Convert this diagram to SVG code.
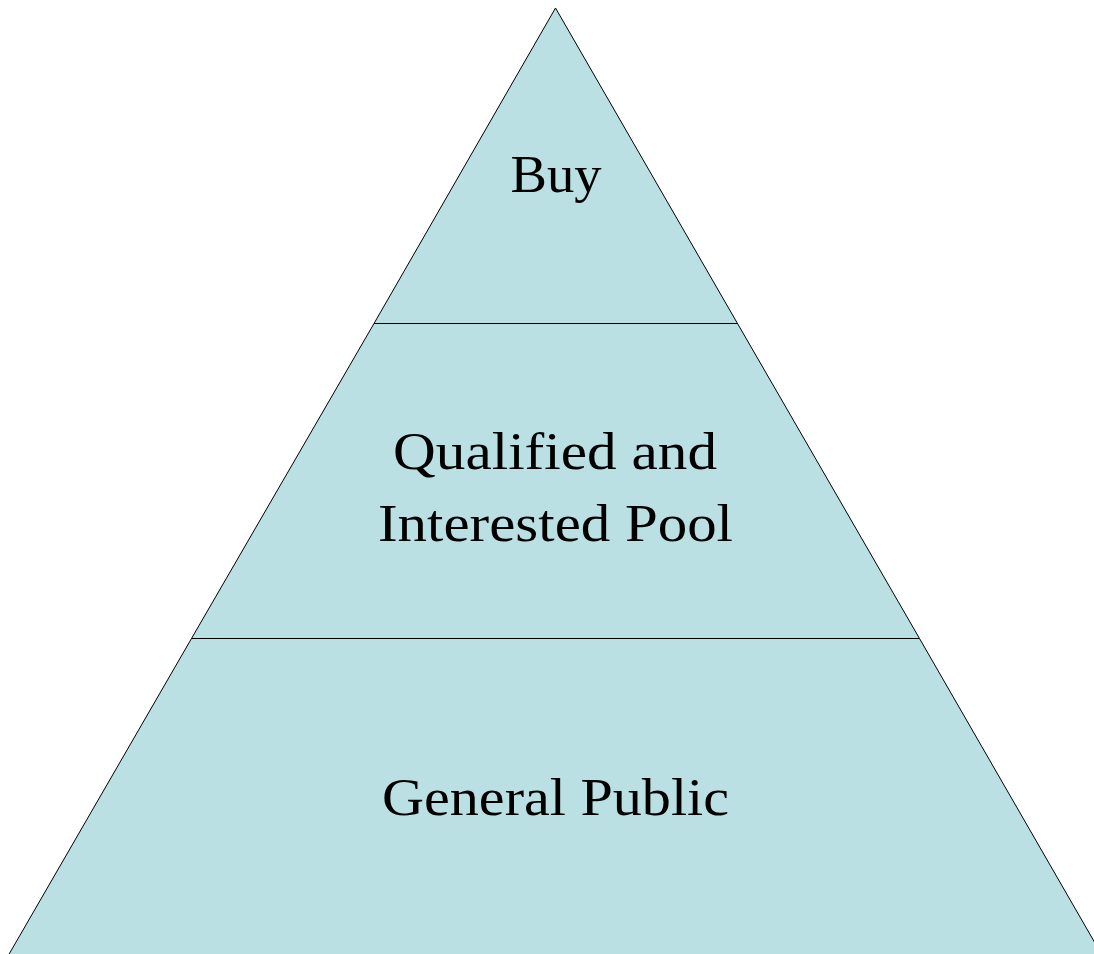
<svg xmlns="http://www.w3.org/2000/svg" width="1094" height="954" viewBox="0 0 1094 954">
<style>
.tier{fill:#BAE0E4;stroke:#000;stroke-width:1}
.lbl{font-family:"Liberation Serif","Times New Roman",serif;font-size:53px;fill:#000;text-anchor:middle}
</style>
<rect width="1094" height="954" fill="#fff"/>
<g id="tier-top">
<polygon class="tier" points="555.5,8 374,323.5 737.5,323.5"/>
<text class="lbl" x="556" y="192" textLength="91" lengthAdjust="spacingAndGlyphs">Buy</text>
</g>
<g id="tier-middle">
<polygon class="tier" points="374,323.5 737.5,323.5 919.5,638.5 191.5,638.5"/>
<text class="lbl" x="555" y="469" textLength="324" lengthAdjust="spacingAndGlyphs">Qualified and</text>
<text class="lbl" x="555.5" y="541" textLength="355" lengthAdjust="spacingAndGlyphs">Interested Pool</text>
</g>
<g id="tier-bottom">
<polygon class="tier" points="191.5,638.5 919.5,638.5 1102.5,956 8,956"/>
<text class="lbl" x="555.5" y="815" textLength="347" lengthAdjust="spacingAndGlyphs">General Public</text>
</g>
<g id="connectors"/>
</svg>
